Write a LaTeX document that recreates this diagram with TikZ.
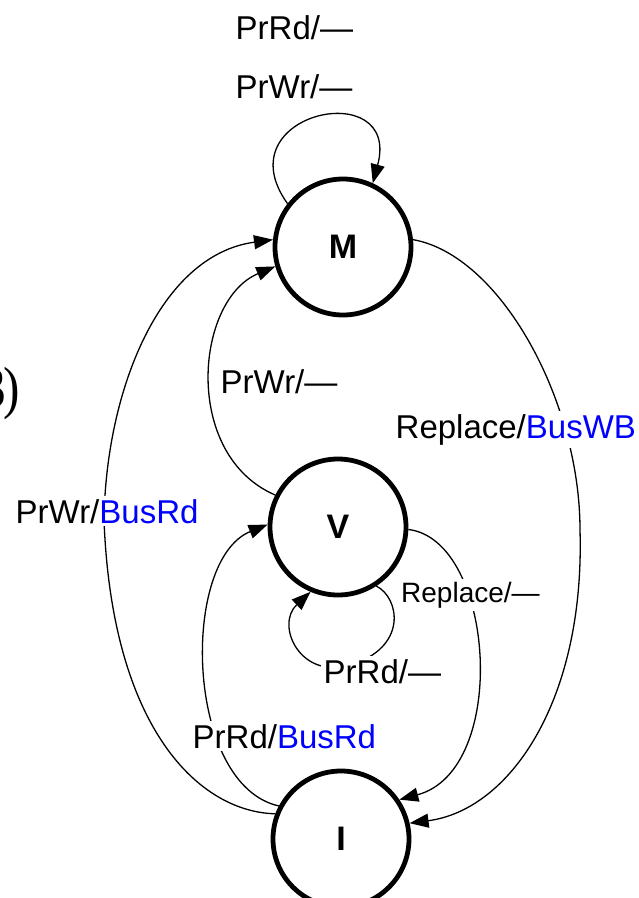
\documentclass[tikz,border=0pt]{standalone}
\usepackage{fontspec}
\setmainfont{Liberation Sans}
\newfontfamily\tagfont{Liberation Serif}
\usetikzlibrary{arrows.meta}
\definecolor{busblue}{RGB}{0,0,255}
\begin{document}
\begin{tikzpicture}[x=1pt,y=-1pt,
  state/.style={circle, draw, line width=4.8pt, minimum size=136pt, inner sep=0pt,
                font=\fontsize{34}{36}\selectfont\bfseries},
  trans/.style={line width=1.3pt, -{Triangle[length=19pt,width=14pt]}},
  lbl/.style={fill=white, inner sep=3pt, anchor=base west, font=\fontsize{33}{36}\selectfont},
  smalllbl/.style={lbl, font=\fontsize{28}{30}\selectfont}]
\useasboundingbox (0,0) rectangle (639,898);

% states
\node[state] (M) at (343,247) {M};
\node[state] (V) at (338,527) {V};
\node[state] (I) at (341,839) {I};

% transitions
\draw[trans] (M.142) .. controls (222,112) and (402,75) .. (M.65);
\draw[trans] (I.159) .. controls (200,812) and (112,730) .. (104,520)
                     .. controls (106,390) and (160,255) .. (M.174);
\draw[trans] (V.153) .. controls (182,455) and (195,300) .. (M.196);
\draw[trans] (I.152) .. controls (185,785) and (180,560) .. (V.178);
\draw[trans] (M.6) .. controls (500,255) and (580,400) .. (580,530)
                   .. controls (585,700) and (510,810) .. (I.13);
\draw[trans] (V.-2) .. controls (495,540) and (510,770) .. (I.34);
\draw[trans] (V.-57) .. controls (400,598) and (408,648) .. (350,665)
                     .. controls (300,680) and (275,625) .. (V.-113);

% transition labels
\node[lbl] (mrd) at (232.5,39) {PrRd/—};
\node[lbl] (mwr) at (232.5,98) {PrWr/—};
\node[lbl] (vm) at (217.5,393) {PrWr/—};
\node[lbl] (mi) at (392.5,438) {Replace/\textcolor{busblue}{BusWB}};
\node[lbl] (im) at (12.5,523) {PrWr/\textcolor{busblue}{BusRd}};
\node[smalllbl] (vi) at (398,602) {Replace/—};
\node[lbl] (vv) at (320.5,683) {PrRd/—};
\node[lbl] (iv) at (189.5,748) {PrRd/\textcolor{busblue}{BusRd}};

% figure tag at the left edge
\node[font=\tagfont\fontsize{58}{60}\selectfont, anchor=base east, inner sep=0pt,
      xscale=0.85] (tag) at (20,407) {3\kern-3pt)};
\end{tikzpicture}
\end{document}
